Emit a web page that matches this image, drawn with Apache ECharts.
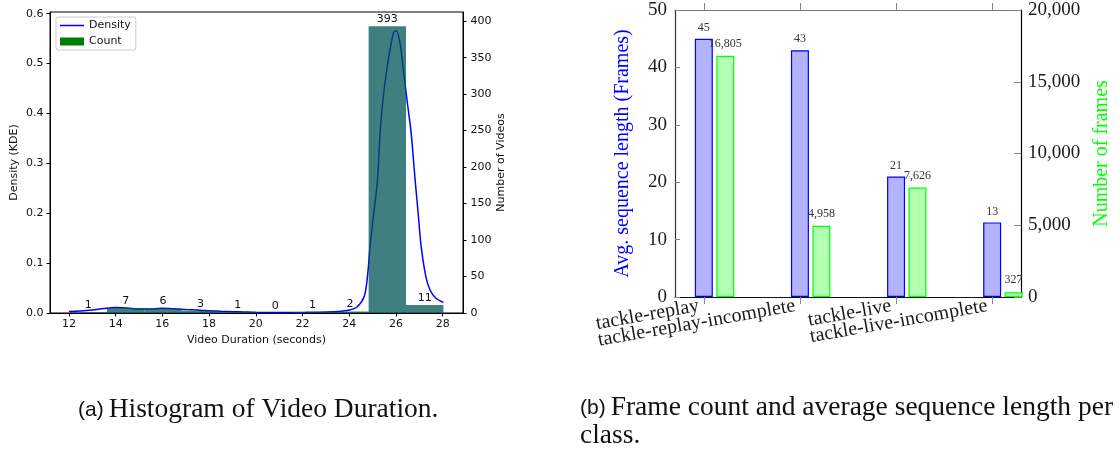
<!DOCTYPE html>
<html>
<head>
<meta charset="utf-8">
<title>Video duration histogram and per-class frame statistics</title>
<script src="https://cdn.jsdelivr.net/npm/echarts@6/dist/echarts.min.js"></script>
<style>
  html, body { margin: 0; padding: 0; background: #fff; }
  #chart { width: 1119px; height: 449px; }
</style>
</head>
<body>
<div id="chart"></div>
<script>
// (a) histogram of video durations with a KDE curve
const histEdges = [12.03, 13.63, 15.23, 16.83, 18.43, 20.03, 21.63, 23.23, 24.83, 26.43, 28.03];
const histCounts = [1, 7, 6, 3, 1, 0, 1, 2, 393, 11];
const densityX = [12.0, 12.5, 13.0, 13.5, 14.0, 14.5, 15.0, 15.5, 16.0, 16.5, 17.0, 17.5, 18.0, 18.5,
  19.0, 19.5, 20.0, 21.0, 22.0, 22.5, 23.0, 23.5, 24.0, 24.33, 24.64, 24.78, 24.89, 25.05, 25.21,
  25.32, 25.45, 25.63, 25.89, 26.01, 26.15, 26.3, 26.47, 26.65, 26.82, 26.95, 27.08, 27.28, 27.46,
  27.7, 28.03];
const densityY = [0.003, 0.004, 0.006, 0.009, 0.011, 0.010, 0.0078, 0.008, 0.0094, 0.0085, 0.007, 0.0058,
  0.0047, 0.0036, 0.0027, 0.002, 0.0013, 0.001, 0.0012, 0.0015, 0.002, 0.003, 0.006, 0.012, 0.033,
  0.073, 0.133, 0.20, 0.267, 0.361, 0.43, 0.495, 0.562, 0.566, 0.548, 0.495, 0.428, 0.361, 0.267,
  0.20, 0.133, 0.073, 0.046, 0.03, 0.021];
const durationTicks = [12, 14, 16, 18, 20, 22, 24, 26, 28];
const densityTicks = [0, 0.1, 0.2, 0.3, 0.4, 0.5, 0.6];
const countTicks = [0, 50, 100, 150, 200, 250, 300, 350, 400];

// (b) frame statistics per class
const classes = ['tackle-replay', 'tackle-replay-incomplete', 'tackle-live', 'tackle-live-incomplete'];
const avgSeqLength = [45, 43, 21, 13];
const frameCounts = [16805, 4958, 7626, 327];
const classTicks = [0, 1, 2, 3];
// the slanted class names are laid out on two label rows so none get dropped
const classLabelsA = [0, 2];
const classLabelsB = [1, 3];

const SANS = '"DejaVu Sans", sans-serif';
const SERIF = '"Liberation Serif", "DejaVu Serif", serif';
const CAP_SANS = '"Liberation Sans", Arial, sans-serif';
const fmtThousands = v => String(Math.round(v)).replace(/\B(?=(\d{3})+(?!\d))/g, ',');

const chart = echarts.init(document.getElementById('chart'), null, { renderer: 'canvas' });

const mplTick = { show: true, inside: false, length: 3.5, lineStyle: { color: '#000', width: 1 } };
const mplLabel = { color: '#111', fontFamily: SANS, fontSize: 11 };
const texLabel = { color: '#1a1a1a', fontFamily: SERIF, fontSize: 19 };
const captionRich = lh => ({
  s: { fontFamily: CAP_SANS, fontSize: 21, fontWeight: 'normal', color: '#111', lineHeight: lh },
  r: { fontFamily: SERIF, fontSize: 27.5, fontWeight: 'normal', color: '#111', lineHeight: lh }
});
const classLabel = values => ({
  customValues: values, rotate: 10, margin: 8,
  showMinLabel: true, showMaxLabel: true, hideOverlap: false,
  padding: [0, 5, 0, 0],
  color: '#1a1a1a', fontFamily: SERIF, fontSize: 20,
  formatter: v => classes[Math.round(v)]
});

const option = {
  animation: false,
  backgroundColor: '#fff',
  title: [
    {
      text: '{s|(a)} {r|Histogram of Video Duration.}',
      left: 78, top: 395, padding: 0,
      textStyle: { fontWeight: 'normal', rich: captionRich(30) }
    },
    {
      text: '{s|(b)} {r|Frame count and average sequence length per}\n{r|class.}',
      left: 580, top: 394, padding: 0,
      textStyle: { fontWeight: 'normal', rich: captionRich(28) }
    }
  ],
  legend: {
    data: [
      { name: 'Density', icon: 'path://M0 0H25V1.6H0Z', itemStyle: { color: '#0000ff' } },
      { name: 'Count', icon: 'rect', itemStyle: { color: '#008000' } }
    ],
    orient: 'vertical',
    left: 56, top: 17,
    itemWidth: 24, itemHeight: 8, itemGap: 5,
    padding: [3, 5, 3, 4],
    borderColor: '#cccccc', borderWidth: 1, borderRadius: 2,
    backgroundColor: '#fff',
    selectedMode: false,
    textStyle: { color: '#111', fontFamily: SANS, fontSize: 11 }
  },
  grid: [
    { left: 50, top: 12, right: 656, bottom: 136, show: true, borderColor: '#000', borderWidth: 1, backgroundColor: 'transparent' },
    { left: 675, top: 10, right: 98, bottom: 152 }
  ],
  xAxis: [
    {
      gridIndex: 0, type: 'value', min: 11.19, max: 28.87, position: 'bottom',
      axisLine: { show: true, onZero: false, lineStyle: { color: '#000', width: 1 } },
      axisTick: Object.assign({ customValues: durationTicks }, mplTick),
      axisLabel: Object.assign({ customValues: durationTicks, margin: 6 }, mplLabel),
      splitLine: { show: false },
      name: 'Video Duration (seconds)', nameLocation: 'middle', nameGap: 21,
      nameTextStyle: { color: '#111', fontFamily: SANS, fontSize: 11 }
    },
    {
      gridIndex: 1, type: 'value', min: -0.3, max: 3.3, position: 'bottom',
      axisLine: { show: true, onZero: false, lineStyle: { color: '#111', width: 1.2 } },
      axisTick: { show: true, inside: false, length: 7, customValues: classTicks, lineStyle: { color: '#888', width: 1 } },
      axisLabel: classLabel(classLabelsA),
      splitLine: { show: false }
    },
    {
      gridIndex: 1, type: 'value', min: -0.3, max: 3.3, position: 'bottom',
      axisLine: { show: false, onZero: false },
      axisTick: { show: false },
      axisLabel: classLabel(classLabelsB),
      splitLine: { show: false }
    },
    {
      gridIndex: 1, type: 'value', min: -0.3, max: 3.3, position: 'top',
      axisLine: { show: true, onZero: false, lineStyle: { color: '#777', width: 1.2 } },
      axisTick: { show: true, inside: false, length: 7, customValues: classTicks, lineStyle: { color: '#888', width: 1 } },
      axisLabel: { show: false },
      splitLine: { show: false }
    },
    {
      // frame-count bars sit to the right of each class tick
      gridIndex: 1, type: 'value', min: -0.523, max: 3.077, position: 'bottom', show: false,
      axisLine: { onZero: false },
      splitLine: { show: false }
    }
  ],
  yAxis: [
    {
      gridIndex: 0, type: 'value', min: 0, max: 0.6035, position: 'left',
      axisLine: { show: true, onZero: false, lineStyle: { color: '#000', width: 1 } },
      axisTick: Object.assign({ customValues: densityTicks }, mplTick),
      axisLabel: Object.assign({ customValues: densityTicks, margin: 6.5, formatter: v => v.toFixed(1) }, mplLabel),
      splitLine: { show: false },
      name: 'Density (KDE)', nameLocation: 'middle', nameGap: 30,
      nameTextStyle: { color: '#111', fontFamily: SANS, fontSize: 11 }
    },
    {
      gridIndex: 0, type: 'value', min: 0, max: 412.6, position: 'right',
      axisLine: { show: true, onZero: false, lineStyle: { color: '#000', width: 1 } },
      axisTick: Object.assign({ customValues: countTicks }, mplTick),
      axisLabel: Object.assign({ customValues: countTicks, margin: 7.5 }, mplLabel),
      splitLine: { show: false },
      name: 'Number of Videos', nameLocation: 'middle', nameGap: 31,
      nameTextStyle: { color: '#111', fontFamily: SANS, fontSize: 11 }
    },
    {
      gridIndex: 1, type: 'value', min: 0, max: 50, interval: 10, position: 'left',
      axisLine: { show: true, onZero: false, lineStyle: { color: '#333', width: 1.2 } },
      axisTick: { show: true, inside: true, length: 5, lineStyle: { color: '#888', width: 1 } },
      axisLabel: Object.assign({ margin: 8 }, texLabel),
      splitLine: { show: false },
      name: 'Avg. sequence length (Frames)', nameLocation: 'middle', nameGap: 42,
      nameTextStyle: { color: '#0000ff', fontFamily: SERIF, fontSize: 20 }
    },
    {
      gridIndex: 1, type: 'value', min: 0, max: 20000, interval: 5000, position: 'right',
      axisLine: { show: true, onZero: false, lineStyle: { color: '#000', width: 1.2 } },
      axisTick: { show: true, inside: true, length: 7, lineStyle: { color: '#888', width: 1 } },
      axisLabel: Object.assign({ margin: 7, formatter: fmtThousands }, texLabel),
      splitLine: { show: false },
      name: 'Number of frames', nameLocation: 'middle', nameGap: 71,
      nameTextStyle: { color: '#00ff00', fontFamily: SERIF, fontSize: 20 }
    }
  ],
  series: [
    {
      name: 'Density', type: 'line',
      xAxisIndex: 0, yAxisIndex: 0,
      data: densityX.map((x, i) => [x, densityY[i]]),
      smooth: 0.3, symbol: 'none', showSymbol: false,
      lineStyle: { color: '#0000ff', width: 1.5 },
      itemStyle: { color: '#0000ff' },
      z: 2
    },
    {
      name: 'Count', type: 'custom',
      xAxisIndex: 0, yAxisIndex: 1,
      encode: { x: [0, 1], y: 2 },
      data: histCounts.map((c, i) => [histEdges[i], histEdges[i + 1], c]),
      itemStyle: { color: '#008000' },
      z: 3,
      renderItem: (params, api) => {
        const x0 = api.value(0), x1 = api.value(1), c = api.value(2);
        const p0 = api.coord([x0, c]);
        const p1 = api.coord([x1, 0]);
        return {
          type: 'group',
          children: [
            {
              type: 'rect',
              shape: { x: p0[0], y: p0[1], width: p1[0] - p0[0], height: p1[1] - p0[1] },
              style: { fill: 'rgba(0,84,84,0.75)' }
            },
            {
              type: 'text',
              style: {
                text: String(c), x: (p0[0] + p1[0]) / 2, y: p0[1] - 1.5,
                align: 'center', verticalAlign: 'bottom',
                fill: '#111', fontFamily: SANS, fontSize: 11
              }
            }
          ]
        };
      }
    },
    {
      name: 'Avg. sequence length', type: 'bar',
      xAxisIndex: 1, yAxisIndex: 2,
      data: avgSeqLength.map((v, i) => [classTicks[i], v]),
      barWidth: 18,
      itemStyle: { color: '#b3b3ff', borderColor: '#0000ff', borderWidth: 1.2 },
      label: { show: true, position: 'top', distance: 5, color: '#333', fontFamily: SERIF, fontSize: 12 }
    },
    {
      name: 'Number of frames', type: 'bar',
      xAxisIndex: 4, yAxisIndex: 3,
      data: frameCounts.map((v, i) => [classTicks[i], v]),
      barWidth: 18,
      itemStyle: { color: '#b3ffb3', borderColor: '#00ff00', borderWidth: 1.2 },
      label: {
        show: true, position: 'top', distance: 6, color: '#333', fontFamily: SERIF, fontSize: 12,
        formatter: p => fmtThousands(p.value[1])
      }
    }
  ]
};

chart.setOption(option);
</script>
</body>
</html>
